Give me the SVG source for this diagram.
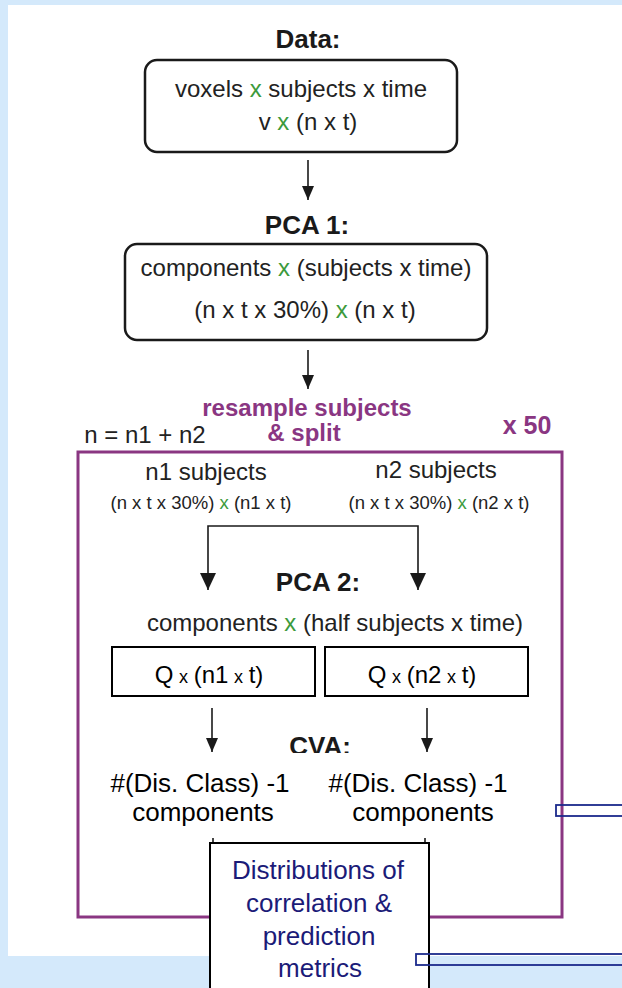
<svg xmlns="http://www.w3.org/2000/svg" width="622" height="988" viewBox="0 0 622 988">
<style>
text{font-family:"Liberation Sans",Arial,Helvetica,sans-serif;text-anchor:middle;}
.t{font-size:24px;fill:#222;}
.s{font-size:18.5px;fill:#222;}
.h{font-size:26px;font-weight:bold;fill:#1a1a1a;}
.p{font-size:24px;font-weight:bold;fill:#8a3682;}
.k{font-size:26px;fill:#000;}
.nv{font-size:26px;fill:#1b1b78;}
.g{fill:#3c9a3c;}
.sx{font-size:18px;}
.box{fill:#fff;stroke:#1a1a1a;stroke-width:2.5;}
.sq{fill:#fff;stroke:#000;stroke-width:2;}
.ln{fill:none;stroke:#1a1a1a;stroke-width:1.6;}
.blue{fill:none;stroke:#1b2a8c;stroke-width:1.8;}
</style>
<defs>
<marker id="ah" markerUnits="userSpaceOnUse" viewBox="0 0 14 12" markerWidth="14" markerHeight="12" refX="14" refY="6" orient="auto-start-reverse"><path d="M0,0 L14,6 L0,12 z" fill="#1a1a1a"/></marker>
<marker id="ahb" markerUnits="userSpaceOnUse" viewBox="0 0 17 16" markerWidth="17" markerHeight="16" refX="17" refY="8" orient="auto-start-reverse"><path d="M0,0 L17,8 L0,16 z" fill="#1a1a1a"/></marker>
<clipPath id="cvaclip"><rect x="0" y="700" width="622" height="53"/></clipPath>
</defs>
<rect x="0" y="0" width="622" height="988" fill="#d4e9fb"/>
<rect x="8" y="5" width="614" height="951" fill="#fff"/>

<g id="data">
<text class="h" x="308" y="48">Data:</text>
<rect class="box" x="145" y="60" width="312" height="92" rx="12"/>
<text class="t" x="301" y="97">voxels <tspan class="g">x</tspan> subjects x time</text>
<text class="t" x="308" y="130">v <tspan class="g">x</tspan> (n x t)</text>
</g>

<g id="pca1">
<text class="h" x="307" y="234">PCA 1:</text>
<rect class="box" x="125" y="244" width="362" height="96" rx="12"/>
<text class="t" x="306" y="276">components <tspan class="g">x</tspan> (subjects x time)</text>
<text class="t" x="305" y="318">(n x t x 30%) <tspan class="g">x</tspan> (n x t)</text>
</g>

<g id="resample">
<text class="p" x="307" y="416">resample subjects</text>
<text class="p" x="304" y="441">&amp; split</text>
<text class="t" x="145" y="443">n = n1 + n2</text>
<text class="p" x="527" y="434" style="font-size:25px">x 50</text>
</g>

<g id="loop">
<rect x="78" y="452" width="484" height="465" fill="none" stroke="#8a3682" stroke-width="3"/>
</g>

<g id="n1">
<text class="t" x="206" y="480">n1 subjects</text>
<text class="s" x="201" y="509">(n x t x 30%) <tspan class="g">x</tspan> (n1 x t)</text>
</g>
<g id="n2">
<text class="t" x="436" y="478">n2 subjects</text>
<text class="s" x="439" y="509">(n x t x 30%) <tspan class="g">x</tspan> (n2 x t)</text>
</g>

<g id="pca2">
<text class="h" x="318" y="591">PCA 2:</text>
<text class="t" x="335" y="631">components <tspan class="g">x</tspan> (half subjects x time)</text>
</g>

<g id="q1">
<rect class="sq" x="112" y="647" width="203" height="49"/>
<text class="t" x="209" y="683" style="fill:#000" word-spacing="-1">Q <tspan class="sx">x</tspan> (n1 <tspan class="sx">x</tspan> t)</text>
</g>
<g id="q2">
<rect class="sq" x="325" y="647" width="203" height="49"/>
<text class="t" x="422" y="683" style="fill:#000" word-spacing="-1">Q <tspan class="sx">x</tspan> (n2 <tspan class="sx">x</tspan> t)</text>
</g>

<g id="cva">
<text class="h" x="320" y="755" clip-path="url(#cvaclip)">CVA:</text>
</g>
<g id="cva1">
<text class="k" x="200" y="792">#(Dis. Class) -1</text>
<text class="k" x="203" y="821">components</text>
</g>
<g id="cva2">
<text class="k" x="418" y="792">#(Dis. Class) -1</text>
<text class="k" x="423" y="821">components</text>
</g>

<g id="connectors">
<path class="ln" d="M308,160 V200" marker-end="url(#ah)"/>
<path class="ln" d="M308,350 V389" marker-end="url(#ah)"/>
<path class="ln" d="M208,590 V526 H418 V590" stroke-width="2" marker-start="url(#ahb)" marker-end="url(#ahb)"/>
<path class="ln" d="M212,708 V752" marker-end="url(#ah)"/>
<path class="ln" d="M427,708 V752" marker-end="url(#ah)"/>
<path class="ln" d="M213,838 V844 M425,838 V844" stroke-width="2"/>
</g>

<g id="distributions">
<rect class="sq" x="210" y="843" width="219" height="160"/>
<text class="nv" x="318" y="879">Distributions of</text>
<text class="nv" x="319" y="912">correlation &amp;</text>
<text class="nv" x="319" y="945">prediction</text>
<text class="nv" x="320" y="977">metrics</text>
</g>

<g id="marks">
<rect class="blue" x="556" y="805" width="80" height="11"/>
<rect class="blue" x="416" y="954" width="220" height="11"/>
</g>
</svg>
